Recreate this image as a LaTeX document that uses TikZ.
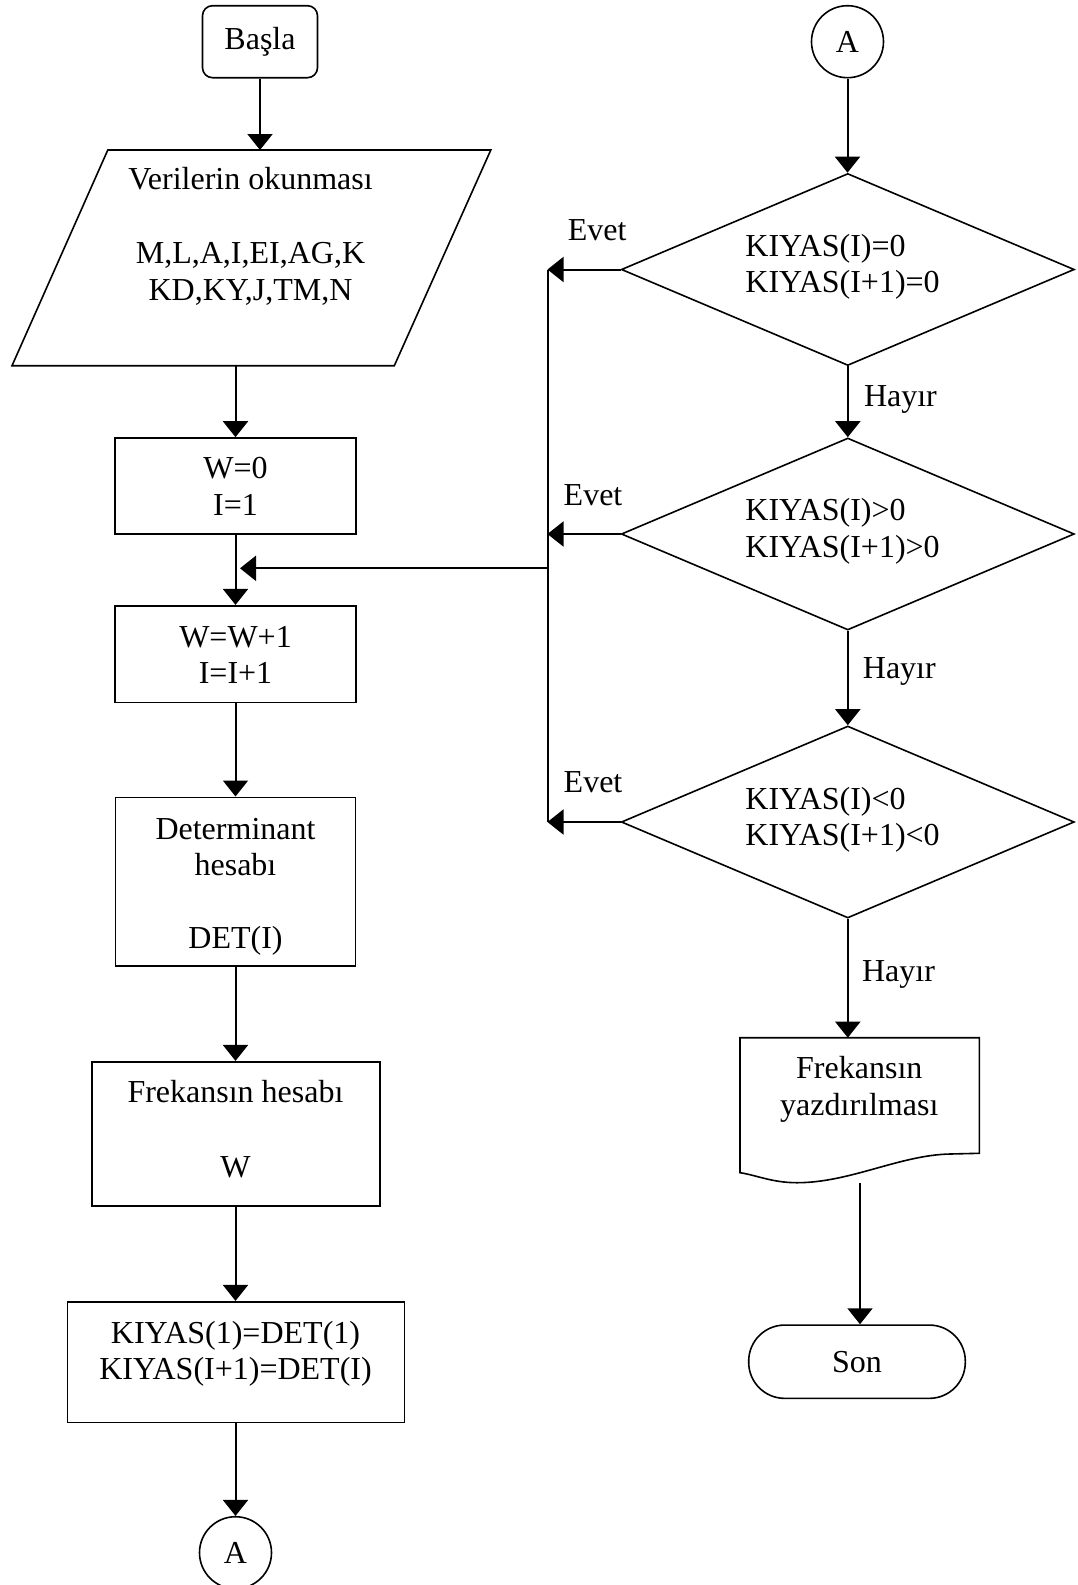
\documentclass[tikz,border=0pt]{standalone}
\usepackage{fontspec}
\setmainfont{Liberation Serif}
\usetikzlibrary{arrows.meta,shapes.geometric}
\begin{document}
\begin{tikzpicture}[x=0.5pt,y=-0.5pt,
  shp/.style={draw,line width=0.8pt,inner sep=0pt},
  box/.style={shp,rectangle},
  outline/.style={line width=0.8pt},
  txt/.style={font=\fontsize{16}{18.3}\selectfont,align=center,inner sep=0pt},
  lbl/.style={font=\fontsize{16}{18.3}\selectfont,inner sep=0pt},
  arr/.style={line width=1pt,-{Triangle[length=8pt,width=12.5pt]}},
  ln/.style={line width=1pt}]
\fill[white] (0,0) rectangle (1077,1585);
\useasboundingbox (0,0) rectangle (1077,1585);

% ---------- left column ----------
\node[box,rounded corners=5pt,minimum width=57.5pt,minimum height=36pt,font=\fontsize{16}{18.3}\selectfont] (start) at (260,41.7) {\strut Başla};

\coordinate (readTop) at (260,150);
\coordinate (readBot) at (235.5,365.7);
\draw[outline] (107.8,150) -- (490.8,150) -- (394.3,365.7) -- (12,365.7) -- cycle;
\node[txt,font=\fontsize{16}{18.6}\selectfont] (read) at (250.5,237.4)
  {\strut Verilerin okunması\\\strut\\\strut M,L,A,I,EI,AG,K\\\strut KD,KY,J,TM,N};

\node[box,minimum width=120.5pt,minimum height=48pt] (w0) at (235.5,486) {};
\node[txt] (w0t) at (235.5,489.9) {\strut W=0\\\strut I=1};

\node[box,minimum width=120.5pt,minimum height=48.3pt] (w1) at (235.5,654) {};
\node[txt] (w1t) at (235.5,658.3) {\strut W=W+1\\\strut I=I+1};

\node[box,minimum width=120pt,minimum height=84.2pt] (det) at (235.5,881.5) {};
\node[txt] (dett) at (235.5,886.7) {\strut Determinant\\\strut hesabı\\\strut\\\strut DET(I)};

\node[box,minimum width=144.15pt,minimum height=72.15pt] (freq) at (235.85,1133.85) {};
\node[txt,font=\fontsize{16}{18.75}\selectfont] (freqt) at (235.5,1132.6) {\strut Frekansın hesabı\\\strut\\\strut W};

\node[box,minimum width=168.5pt,minimum height=60.3pt] (kiyas) at (235.8,1362) {};
\node[txt] (kiyast) at (235.5,1354.3) {\strut KIYAS(1)=DET(1)\\\strut KIYAS(I+1)=DET(I)};

\node[shp,circle,minimum size=36pt,font=\fontsize{16}{18.3}\selectfont] (aout) at (235.5,1552.7) {A};

\draw[arr] (start.south) -- (readTop);
\draw[arr] (readBot) -- (w0.north);
\draw[arr] (w0.south) -- (w1.north);
\draw[arr] (w1.south) -- (det.north);
\draw[arr] (det.south) -- (det.south |- freq.north);
\draw[arr] (det.south |- freq.south) -- (det.south |- kiyas.north);
\draw[arr] (det.south |- kiyas.south) -- (det.south |- aout.north);

% ---------- right column ----------
\node[shp,circle,minimum size=36pt,font=\fontsize{16}{18.3}\selectfont] (ain) at (847.5,41.7) {A};

\node[shp,diamond,minimum width=226.5pt,minimum height=96pt] (d1) at (847.8,269.5) {};
\node[txt,align=left,anchor=west] (d1t) at (745,267.1) {\strut KIYAS(I)=0\\\strut KIYAS(I+1)=0};

\node[shp,diamond,minimum width=226.5pt,minimum height=96pt] (d2) at (847.8,534) {};
\node[txt,align=left,anchor=west] (d2t) at (745,531.4) {\strut KIYAS(I)>0\\\strut KIYAS(I+1)>0};

\node[shp,diamond,minimum width=226.5pt,minimum height=96pt] (d3) at (847.8,822) {};
\node[txt,align=left,anchor=west] (d3t) at (745,820) {\strut KIYAS(I)<0\\\strut KIYAS(I+1)<0};

\coordinate (docTop) at (847.8,1037.7);
\coordinate (docBot) at (860,1182.7);
\draw[outline] (740,1037.7) -- (979.3,1037.7) -- (979.3,1153.3) -- (950,1154)
  .. controls (900,1155) and (850,1182.7) .. (797,1182.7)
  .. controls (772,1182.7) and (756,1175) .. (740,1172.7) -- cycle;
\node[txt] (doc) at (859.3,1089.4) {\strut Frekansın\\\strut yazdırılması};

\node[box,rounded corners=18pt,minimum width=108.3pt,minimum height=36.65pt,font=\fontsize{16}{18.3}\selectfont] (son) at (857,1361.7) {Son};

\draw[arr] (ain.south) -- (ain.south |- d1.north);
\draw[arr] (d1.south) -- (d2.north);
\draw[arr] (d2.south) -- (d3.north);
\draw[arr] (d3.south) -- (docTop);
\draw[arr] (docBot) -- (docBot |- son.north);

\node[lbl,anchor=base west] (h1) at (863.6,406.7) {Hayır};
\node[lbl,anchor=base west] (h2) at (862.5,678.3) {Hayır};
\node[lbl,anchor=base west] (h3) at (861.7,981.7) {Hayır};

% ---------- yes branches / loop back ----------
\coordinate (spT) at (547.5,269.5);
\coordinate (spB) at (547.5,822);
\coordinate (spM) at (547.5,568.3);
\coordinate (loopIn) at (240,568.3);
\draw[ln] (spT) -- (spB);
\draw[arr] (d1.west) -- (d1.west -| spT);
\draw[arr] (d2.west) -- (d2.west -| spT);
\draw[arr] (d3.west) -- (d3.west -| spT);
\draw[arr] (spM) -- (loopIn);

\node[lbl,anchor=base west] (e1) at (567.4,240.7) {Evet};
\node[lbl,anchor=base west] (e2) at (563.3,505) {Evet};
\node[lbl,anchor=base west] (e3) at (563.3,792.3) {Evet};
\end{tikzpicture}
\end{document}
